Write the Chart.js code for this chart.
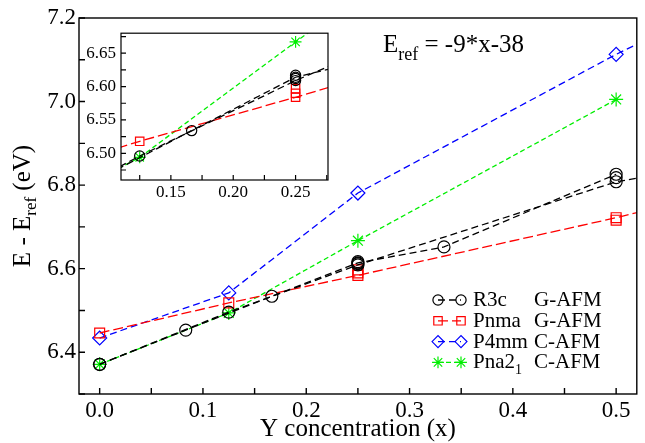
<!DOCTYPE html>
<html>
<head>
<meta charset="utf-8">
<script src="https://cdn.jsdelivr.net/npm/chart.js@4.4.0/dist/chart.umd.min.js"></script>
<style>
  html, body { margin: 0; padding: 0; background: #fff; }
  #wrap { position: relative; width: 645px; height: 443px; }
  #main { position: absolute; left: 0; top: 0; }
  #inset { position: absolute; left: 78px; top: 18px; }
</style>
</head>
<body>
<div id="wrap">
  <canvas id="main" width="645" height="443"></canvas>
  <canvas id="inset" width="260" height="190"></canvas>
</div>
<script>
// R3c G-AFM: two supercell sets
const r3cX1 = [0, 1 / 12, 1 / 6, 0.25, 1 / 3, 0.5];
const r3cY1 = [6.371, 6.453, 6.534, 6.614, 6.652, 6.826];
const r3cX2 = [0, 0.125, 0.25, 0.5, 0.6];   // last point is off the frame, line runs on past 0.5
const r3cY2 = [6.371, 6.496, 6.609, 6.808, 6.85];
const r3cExtraX = [0.25, 0.25, 0.5];
const r3cExtraY = [6.617, 6.612, 6.818];

// Pnma G-AFM
const pnmaX = [0, 0.125, 0.25, 0.5, 0.6];
const pnmaY = [6.446, 6.518, 6.584, 6.722, 6.782];
const pnmaExtraX = [0.25, 0.25, 0.5];
const pnmaExtraY = [6.597, 6.590, 6.716];

// P4mm C-AFM
const p4mmX = [0, 0.125, 0.25, 0.5, 0.6];
const p4mmY = [6.434, 6.542, 6.781, 7.113, 7.233];

// Pna2_1 C-AFM
const pna21X = [0, 0.125, 0.25, 0.5];
const pna21Y = [6.371, 6.494, 6.667, 7.005];

const legendNames = ['R3c', 'Pnma', 'P4mm', 'Pna2'];
const legendSubs = ['', '', '', '1'];
const legendMag = ['G-AFM', 'G-AFM', 'C-AFM', 'C-AFM'];

const serif = "'Liberation Serif', 'Times New Roman', serif";

const styles = [
  { color: '#000000', dash: [7, 4], point: 'circle', r: 6 },
  { color: '#ff0000', dash: [10, 4], point: 'rect', r: 7 },
  { color: '#0000ff', dash: [7, 4], point: 'rectRot', r: 7 },
  { color: '#00ee00', dash: [5, 3], point: 'star', r: 7 }
];

function pts(xs, ys) {
  return xs.map(function (x, i) { return { x: x, y: ys[i] }; });
}

function isMajor(v, step) {
  return Math.abs(v / step - Math.round(v / step)) < 1e-6;
}

function buildSets(k, withP4mm) {
  const line = function (xs, ys, st, show) {
    return {
      data: pts(xs, ys),
      showLine: show,
      borderColor: st.color,
      borderWidth: 1.3,
      borderDash: st.dash,
      pointStyle: st.point,
      pointRadius: st.r * k,
      pointBorderColor: st.color,
      pointBorderWidth: 1.2,
      pointBackgroundColor: 'rgba(0,0,0,0)',
      fill: false,
      tension: 0
    };
  };
  const sets = [
    line(r3cX1, r3cY1, styles[0], true),
    line(r3cX2, r3cY2, styles[0], true),
    line(r3cExtraX, r3cExtraY, styles[0], false),
    line(pnmaX, pnmaY, styles[1], true),
    line(pnmaExtraX, pnmaExtraY, styles[1], false)
  ];
  if (withP4mm) sets.push(line(p4mmX, p4mmY, styles[2], true));
  sets.push(line(pna21X, pna21Y, styles[3], true));
  return sets;
}

// box round the plot and ticks pointing inwards
const framePlugin = {
  id: 'frame',
  afterDraw(chart, args, opts) {
    const ctx = chart.ctx;
    const a = chart.chartArea;
    const sx = chart.scales.x, sy = chart.scales.y;
    ctx.save();
    ctx.strokeStyle = '#000';
    ctx.lineWidth = opts.width;
    ctx.setLineDash([]);
    ctx.strokeRect(a.left, a.top, a.right - a.left, a.bottom - a.top);
    ctx.beginPath();
    sx.ticks.forEach(function (t) {
      const px = sx.getPixelForValue(t.value);
      ctx.moveTo(px, a.bottom);
      ctx.lineTo(px, a.bottom - opts.tick);
    });
    sy.ticks.forEach(function (t) {
      const py = sy.getPixelForValue(t.value);
      ctx.moveTo(a.left, py);
      ctx.lineTo(a.left + opts.tick, py);
    });
    ctx.stroke();
    ctx.restore();
  }
};

function drawRuns(ctx, runs, x, y, align) {
  let total = 0;
  runs.forEach(function (r) {
    ctx.font = r.size + 'px ' + serif;
    r.w = ctx.measureText(r.t).width;
    total += r.w;
  });
  let cx = align === 'center' ? x - total / 2 : x;
  ctx.textAlign = 'left';
  ctx.textBaseline = 'alphabetic';
  runs.forEach(function (r) {
    ctx.font = r.size + 'px ' + serif;
    ctx.fillText(r.t, cx, y + (r.dy || 0));
    cx += r.w;
  });
}

const notesPlugin = {
  id: 'notes',
  afterDraw(chart) {
    const ctx = chart.ctx;
    const a = chart.chartArea;
    ctx.save();
    ctx.fillStyle = '#000';

    // axis titles
    drawRuns(ctx, [{ t: 'Y concentration (x)', size: 25 }], (a.left + a.right) / 2, 436, 'center');
    ctx.save();
    ctx.translate(30, (a.top + a.bottom) / 2);
    ctx.rotate(-Math.PI / 2);
    drawRuns(ctx, [
      { t: 'E - E', size: 25 },
      { t: 'ref', size: 17, dy: 6 },
      { t: ' (eV)', size: 25 }
    ], 0, 0, 'center');
    ctx.restore();

    // reference energy note
    drawRuns(ctx, [
      { t: 'E', size: 25 },
      { t: 'ref', size: 18, dy: 8 },
      { t: ' = -9*x-38', size: 25 }
    ], 383, 52, 'left');

    // legend
    for (let i = 0; i < legendNames.length; i++) {
      const st = styles[i];
      const base = 306 + i * 20.8;
      const my = base - 6;
      ctx.save();
      ctx.strokeStyle = st.color;
      ctx.lineWidth = 1.3;
      ctx.setLineDash(st.dash);
      ctx.beginPath();
      ctx.moveTo(438, my);
      ctx.lineTo(461, my);
      ctx.stroke();
      ctx.setLineDash([]);
      ctx.fillStyle = 'rgba(0,0,0,0)';
      ctx.lineWidth = 1.2;
      const po = { pointStyle: st.point, radius: st.r * 0.85, rotation: 0, borderWidth: 1.2 };
      Chart.helpers.drawPoint(ctx, po, 438, my);
      Chart.helpers.drawPoint(ctx, po, 461, my);
      ctx.restore();
      ctx.fillStyle = '#000';
      const runs = [{ t: legendNames[i], size: 21 }];
      if (legendSubs[i]) runs.push({ t: legendSubs[i], size: 14, dy: 6 });
      drawRuns(ctx, runs, 473, base, 'left');
      drawRuns(ctx, [{ t: legendMag[i], size: 21 }], 534, base, 'left');
    }
    ctx.restore();
  }
};

const mainChart = new Chart(document.getElementById('main'), {
  type: 'scatter',
  data: { datasets: buildSets(1, true) },
  plugins: [framePlugin, notesPlugin],
  options: {
    responsive: false,
    animation: false,
    layout: { padding: { top: 18, right: 6, left: 0, bottom: 0 } },
    plugins: {
      legend: { display: false },
      tooltip: { enabled: false },
      frame: { width: 1.4, tick: 6 }
    },
    scales: {
      x: {
        type: 'linear', min: -0.02, max: 0.52,
        grid: { display: false, drawTicks: false },
        border: { display: false },
        ticks: {
          stepSize: 0.05, autoSkip: false, includeBounds: false, maxRotation: 0,
          padding: 3, color: '#000', font: { family: serif, size: 23 },
          callback: function (v) { return isMajor(v, 0.1) ? v.toFixed(1) : ''; }
        },
        afterFit: function (s) { s.height = 49; }
      },
      y: {
        type: 'linear', min: 6.3, max: 7.2,
        grid: { display: false, drawTicks: false },
        border: { display: false },
        ticks: {
          stepSize: 0.1, autoSkip: false, includeBounds: false,
          padding: 3, color: '#000', font: { family: serif, size: 23 },
          callback: function (v) { return Math.round(v * 10) % 2 === 0 ? v.toFixed(1) : ''; }
        },
        afterFit: function (s) { s.width = 79; }
      }
    }
  }
});

const insetChart = new Chart(document.getElementById('inset'), {
  type: 'scatter',
  data: { datasets: buildSets(0.85, false) },
  plugins: [framePlugin],
  options: {
    responsive: false,
    animation: false,
    layout: { padding: { top: 7, right: 10, left: 0, bottom: 0 } },
    plugins: {
      legend: { display: false },
      tooltip: { enabled: false },
      frame: { width: 1.2, tick: 5 }
    },
    scales: {
      x: {
        type: 'linear', min: 0.11, max: 0.276,
        grid: { display: false, drawTicks: false },
        border: { display: false },
        ticks: {
          stepSize: 0.025, autoSkip: false, includeBounds: false, maxRotation: 0,
          padding: 2, color: '#000', font: { family: serif, size: 17 },
          callback: function (v) { return isMajor(v, 0.05) ? v.toFixed(2) : ''; }
        },
        afterFit: function (s) { s.height = 28; }
      },
      y: {
        type: 'linear', min: 6.46, max: 6.68,
        grid: { display: false, drawTicks: false },
        border: { display: false },
        ticks: {
          stepSize: 0.025, autoSkip: false, includeBounds: false,
          padding: 5, color: '#000', font: { family: serif, size: 17 },
          callback: function (v) { return isMajor(v, 0.05) ? v.toFixed(2) : ''; }
        },
        afterFit: function (s) { s.width = 43; }
      }
    }
  }
});
</script>
</body>
</html>
